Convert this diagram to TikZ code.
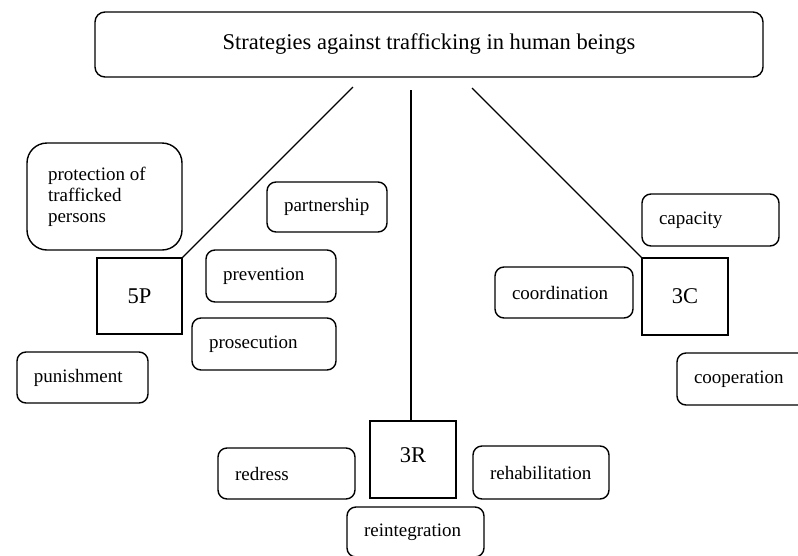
\documentclass[tikz,border=0pt]{standalone}
\usepackage{fontspec}
\setmainfont{Liberation Serif}
\begin{document}
\begin{tikzpicture}[x=1pt,y=-1pt,
  base/.style={draw=black, line width=1.4pt, inner ysep=2pt},
  rbox/.style={base, rounded corners=9pt, align=flush left, inner xsep=17pt,
    font=\fontsize{19}{21}\selectfont},
  sqbox/.style={base, font=\fontsize{22.5}{24}\selectfont, inner sep=0pt},
  link/.style={line width=1.4pt}]
\useasboundingbox (0,0) rectangle (798,555);
% title
\node[base, rounded corners=10pt, minimum width=668pt, minimum height=65pt,
  font=\fontsize{22.5}{24}\selectfont] (title) at (429,44.5) {Strategies against trafficking in human beings};
% squares
\node[sqbox, minimum width=85pt, minimum height=76pt] (p5) at (139.5,296) {5P};
\node[sqbox, minimum width=86pt, minimum height=77pt] (c3) at (685,296.5) {3C};
\node[sqbox, minimum width=86pt, minimum height=77pt, text depth=8pt] (r3) at (413,459.5) {3R};
% 5P boxes
\node[rbox, rounded corners=20pt, inner xsep=21pt, text width=113pt, minimum height=107pt] (protection) at (104.5,196.5) {protection of\\trafficked\\persons};
\node[rbox, text width=86pt, minimum height=50pt] (partnership) at (327,207) {partnership};
\node[rbox, text width=96pt, minimum height=52pt] (prevention) at (271,276) {prevention};
\node[rbox, text width=110pt, minimum height=52pt] (prosecution) at (264,344) {prosecution};
\node[rbox, text width=97pt, minimum height=51pt] (punishment) at (82.5,377.5) {punishment};
% 3C boxes
\node[rbox, text width=103pt, minimum height=52pt] (capacity) at (710.5,220) {capacity};
\node[rbox, text width=104pt, minimum height=51pt] (coordination) at (564,292.5) {coordination};
\node[rbox, text width=104pt, minimum height=52pt] (cooperation) at (746,379) {cooperation};
% 3R boxes
\node[rbox, text width=103pt, minimum height=51pt] (redress) at (286.5,473.5) {redress};
\node[rbox, text width=102pt, minimum height=53pt] (rehabilitation) at (541,472.5) {rehabilitation};
\node[rbox, text width=103pt, minimum height=50pt] (reintegration) at (415.5,532) {reintegration};
% connectors
\coordinate (l1) at (353,87);
\coordinate (m1) at (411,90);
\coordinate (r1) at (472,88);
\draw[link] (l1) -- (p5.north east);
\draw[link] (m1) -- (m1 |- r3.north);
\draw[link] (r1) -- (c3.north west);
\end{tikzpicture}
\end{document}
